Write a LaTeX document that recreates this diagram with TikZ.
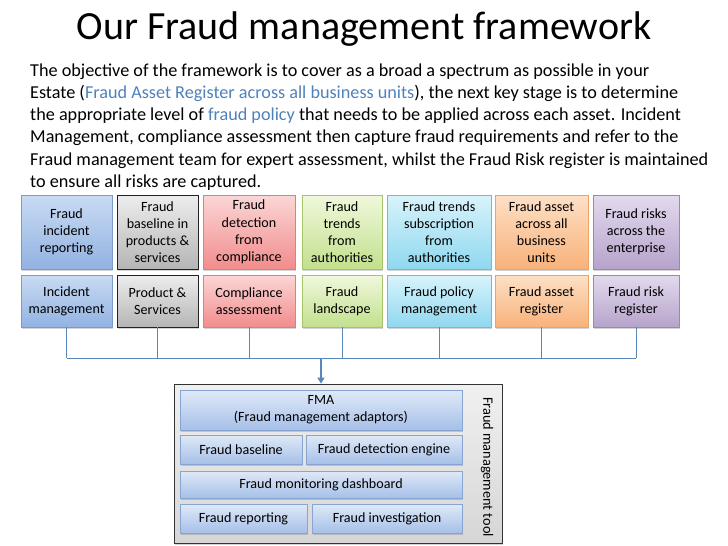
\documentclass[tikz,border=0pt]{standalone}
\usepackage{fontspec}
\setmainfont{Carlito}
\usetikzlibrary{shadows,arrows.meta}
\definecolor{linkblue}{HTML}{4F81BD}
\definecolor{connc}{HTML}{5A86BE}
\definecolor{blueT}{HTML}{C9DBF3}\definecolor{blueB}{HTML}{92B2E2}\definecolor{blueD}{HTML}{7A9CCD}
\definecolor{grayT}{HTML}{EDEDED}\definecolor{grayB}{HTML}{B5B5B5}\definecolor{grayD}{HTML}{222222}
\definecolor{redT}{HTML}{FBD6D6}\definecolor{redB}{HTML}{F28C8C}\definecolor{redD}{HTML}{D98080}
\definecolor{greenT}{HTML}{F0F8DC}\definecolor{greenB}{HTML}{C2E08C}\definecolor{greenD}{HTML}{A6C46A}
\definecolor{cyanT}{HTML}{D9F3FB}\definecolor{cyanB}{HTML}{8FD8EF}\definecolor{cyanD}{HTML}{72BCD2}
\definecolor{orangeT}{HTML}{FDE0C6}\definecolor{orangeB}{HTML}{F8B27A}\definecolor{orangeD}{HTML}{E9A46A}
\definecolor{purpleT}{HTML}{E3DAEE}\definecolor{purpleB}{HTML}{B6A3CB}\definecolor{purpleD}{HTML}{9A86B8}
\definecolor{toolT}{HTML}{DFE9F7}\definecolor{toolB}{HTML}{A6C0E8}\definecolor{toolD}{HTML}{86A5D2}
\definecolor{outerT}{HTML}{F0F0F0}\definecolor{outerB}{HTML}{D6D6D6}
\begin{document}
\begin{tikzpicture}[x=1pt,y=-1pt,
  fbox/.style n args={3}{draw=#3, line width=0.8pt, top color=#1, bottom color=#2,
     align=center, inner sep=1pt, font=\fontsize{14.1}{17.2}\selectfont,
     drop shadow={shadow xshift=1.2pt, shadow yshift=-1.5pt, opacity=0.35}},
  bluebox/.style={fbox={blueT}{blueB}{blueD}},
  graybox/.style={fbox={grayT}{grayB}{grayD}},
  redbox/.style={fbox={redT}{redB}{redD}},
  greenbox/.style={fbox={greenT}{greenB}{greenD}},
  cyanbox/.style={fbox={cyanT}{cyanB}{cyanD}},
  orangebox/.style={fbox={orangeT}{orangeB}{orangeD}},
  purplebox/.style={fbox={purpleT}{purpleB}{purpleD}},
  toolbox/.style={fbox={toolT}{toolB}{toolD}},
  conn/.style={draw=connc, line width=0.9pt},
  top/.style={minimum height=74pt},
  bot/.style={minimum height=52pt}
]
\useasboundingbox (0,0) rectangle (728,546);

% title
\node[anchor=base, font=\fontsize{40}{44}\selectfont] (title) at (364,39) {Our Fraud management framework};

% paragraph
\node[anchor=north west, inner sep=0pt, align=left, font=\fontsize{18.2}{22.2}\selectfont] (para) at (30,63.5)
{The objective of the framework is to cover as a broad a spectrum as possible in your\\
Estate (\textcolor{linkblue}{Fraud Asset Register across all business units}), the next key stage is to determine\\
the appropriate level of \textcolor{linkblue}{fraud policy} that needs to be applied across each asset. Incident\\
Management, compliance assessment then capture fraud requirements and refer to the\\
Fraud management team for expert assessment, whilst the Fraud Risk register is maintained\\
to ensure all risks are captured.};

% top row
\node[bluebox, top, minimum width=91pt] (t1) at (66.5,232) {Fraud\\incident\\reporting};
\node[graybox, top, minimum width=81pt] (t2) at (157.5,232) {Fraud\\baseline in\\products \&\\services};
\node[redbox, top, minimum width=92pt] (t3) at (249,232) {Fraud\\detection\\from\\compliance};
\node[greenbox, top, minimum width=80pt] (t4) at (342,232) {Fraud\\trends\\from\\authorities};
\node[cyanbox, top, minimum width=104pt] (t5) at (439,232) {Fraud trends\\subscription\\from\\authorities};
\node[orangebox, top, minimum width=93pt] (t6) at (541.5,232) {Fraud asset\\across all\\business\\units};
\node[purplebox, top, minimum width=86pt] (t7) at (636,232) {Fraud risks\\across the\\enterprise};

% bottom row
\node[bluebox, bot, minimum width=91pt] (b1) at (66.5,301) {Incident\\management};
\node[graybox, bot, minimum width=81pt] (b2) at (157.5,301) {Product \&\\Services};
\node[redbox, bot, minimum width=92pt] (b3) at (249,301) {Compliance\\assessment};
\node[greenbox, bot, minimum width=80pt] (b4) at (342,301) {Fraud\\landscape};
\node[cyanbox, bot, minimum width=104pt] (b5) at (439,301) {Fraud policy\\management};
\node[orangebox, bot, minimum width=93pt] (b6) at (541.5,301) {Fraud asset\\register};
\node[purplebox, bot, minimum width=86pt] (b7) at (636,301) {Fraud risk\\register};

% tool
\node[draw=black!80, line width=0.8pt, top color=outerT, bottom color=outerB,
      minimum width=328pt, minimum height=159pt,
      drop shadow={shadow xshift=1.2pt, shadow yshift=-1.5pt, opacity=0.35}] (tool) at (338,463.5) {};
\node[toolbox, minimum width=282pt, minimum height=40pt] (fma) at (321,410) {FMA\\(Fraud management adaptors)};
\node[toolbox, minimum width=122pt, minimum height=29pt] (fb) at (241,449.5) {Fraud baseline};
\node[toolbox, minimum width=156pt, minimum height=29pt] (fde) at (384,449.5) {Fraud detection engine};
\node[toolbox, minimum width=282pt, minimum height=27pt] (fmd) at (321,484.5) {Fraud monitoring dashboard};
\node[toolbox, minimum width=127pt, minimum height=29pt] (fr) at (243.5,518.5) {Fraud reporting};
\node[toolbox, minimum width=150pt, minimum height=29pt] (fi) at (387,518.5) {Fraud investigation};
\node[rotate=-90, font=\fontsize{14.3}{16}\selectfont] (tl) at (487,467) {Fraud management tool};

% connectors
\coordinate (hl) at (0,358);
\coordinate (hub) at (321,358);
\foreach \b in {b1,b2,b3,b4,b5,b6,b7}{
  \draw[conn] (\b.south) -- (\b.south |- hl);
}
\draw[conn] (b1.south |- hl) -- (b7.south |- hl);
\draw[conn, line width=1.6pt, -{Triangle[length=6pt,width=7pt]}] (hub) -- (hub |- tool.north);
\end{tikzpicture}
\end{document}
